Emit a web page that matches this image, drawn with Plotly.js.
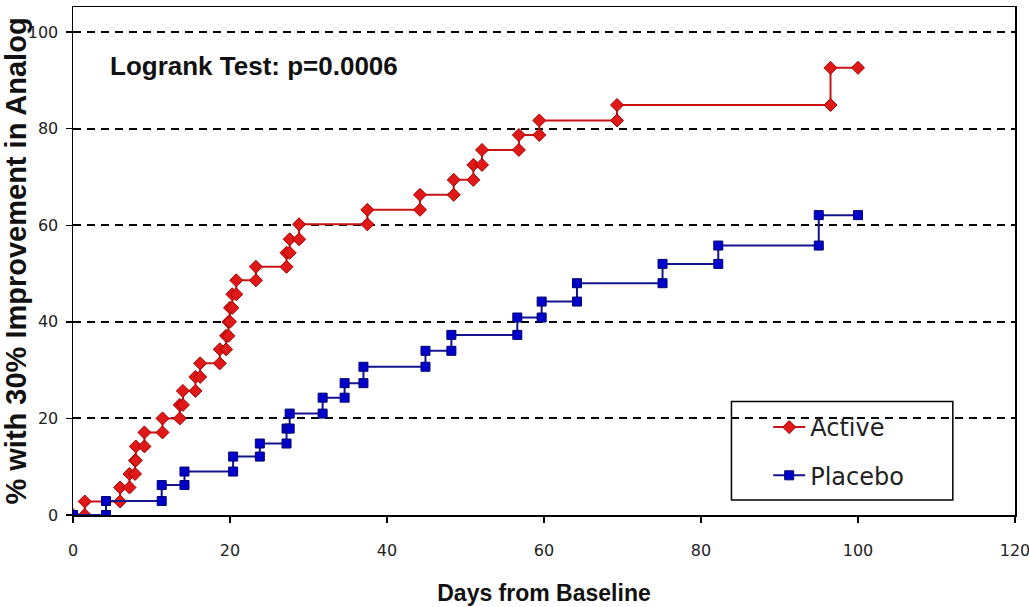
<!DOCTYPE html>
<html>
<head>
<meta charset="utf-8">
<script src="https://cdn.plot.ly/plotly-3.0.1.min.js"></script>
<style>
  html, body { margin: 0; padding: 0; background: #ffffff; }
  #chart { width: 1029px; height: 607px; }
</style>
</head>
<body>
<div id="chart"></div>
<script>
// ---- Data (Kaplan-Meier style step curves) ----
const activeName = "Active";
const placeboName = "Placebo";

const activeDays = [0, 1.5, 1.5, 6.0, 6.0, 7.2, 7.2, 7.9, 7.9, 8.0, 8.0, 9.1, 9.1, 11.4, 11.4,
  13.6, 13.6, 14.0, 14.0, 15.6, 15.6, 16.2, 16.2, 18.7, 18.7, 19.5, 19.5, 19.8, 19.8,
  20.0, 20.0, 20.3, 20.3, 20.8, 20.8, 23.3, 23.3, 27.2, 27.2, 27.6, 27.6, 28.8, 28.8,
  37.5, 37.5, 44.2, 44.2, 48.5, 48.5, 51.0, 51.0, 52.1, 52.1, 56.8, 56.8, 59.4, 59.4,
  69.3, 69.3, 96.5, 96.5, 100];
const activePct = [0, 0, 2.8, 2.8, 5.7, 5.7, 8.5, 8.5, 11.3, 11.3, 14.2, 14.2, 17.1, 17.1, 20.0,
  20.0, 22.8, 22.8, 25.7, 25.7, 28.6, 28.6, 31.4, 31.4, 34.3, 34.3, 37.1, 37.1, 40.0,
  40.0, 42.9, 42.9, 45.7, 45.7, 48.6, 48.6, 51.4, 51.4, 54.3, 54.3, 57.1, 57.1, 60.2,
  60.2, 63.2, 63.2, 66.3, 66.3, 69.4, 69.4, 72.5, 72.5, 75.6, 75.6, 78.7, 78.7, 81.7,
  81.7, 84.9, 84.9, 92.6, 92.6];

const placeboDays = [0, 4.2, 4.2, 11.3, 11.3, 14.2, 14.2, 20.4, 20.4, 23.8, 23.8, 27.2, 27.2,
  27.6, 27.6, 31.8, 31.8, 34.6, 34.6, 37.0, 37.0, 44.9, 44.9, 48.2, 48.2, 56.6, 56.6,
  59.7, 59.7, 64.2, 64.2, 75.1, 75.1, 82.2, 82.2, 95.0, 95.0, 100];
const placeboPct = [0, 0, 2.9, 2.9, 6.2, 6.2, 9.0, 9.0, 12.1, 12.1, 14.8, 14.8, 17.9,
  17.9, 21.0, 21.0, 24.3, 24.3, 27.3, 27.3, 30.7, 30.7, 34.0, 34.0, 37.3, 37.3, 40.9,
  40.9, 44.2, 44.2, 48.0, 48.0, 52.0, 52.0, 55.8, 55.8, 62.1, 62.1];

const xTickVals = [0, 20, 40, 60, 80, 100, 120];
const yTickVals = [0, 20, 40, 60, 80, 100];

const xTitle = "Days from Baseline";
const yTitle = "% with 30% Improvement in Analog";
const noteText = "Logrank Test: p=0.0006";

// ---- Chart ----
const tickFont = { family: "DejaVu Sans, Liberation Sans, Arial, sans-serif", size: 16, color: "#222222" };
const boldFont = "Liberation Sans, Arial, sans-serif";

const traces = [
  {
    x: activeDays, y: activePct, name: activeName, type: "scatter", mode: "lines+markers",
    legendgroup: "a",
    line: { color: "#c81414", width: 2 },
    marker: { symbol: "diamond", size: 10, color: "#e01818", line: { color: "#a00000", width: 1 } }
  },
  {
    x: placeboDays, y: placeboPct, name: placeboName, type: "scatter", mode: "lines+markers",
    legendgroup: "b",
    line: { color: "#14148c", width: 2 },
    marker: { symbol: "square", size: 9, color: "#0000cc", line: { color: "#00006e", width: 1 } }
  }
];

const layout = {
  width: 1029, height: 607,
  margin: { l: 73, r: 14, t: 7, b: 92 },
  paper_bgcolor: "#ffffff",
  plot_bgcolor: "#ffffff",
  showlegend: true,
  xaxis: {
    range: [0, 120],
    tickvals: xTickVals,
    ticks: "outside", ticklen: 6, tickwidth: 1.5, tickcolor: "#000000",
    tickfont: tickFont,
    ticklabelstandoff: 14,
    ticklabeloverflow: "allow",
    showgrid: false, zeroline: false,
    showline: true, linecolor: "#000000", linewidth: 1.5, mirror: true,
    title: { text: xTitle, font: { family: boldFont, size: 23, color: "#111111", weight: "bold" }, standoff: 26 },
    fixedrange: true
  },
  yaxis: {
    range: [0, 105.2],
    tickvals: yTickVals,
    ticks: "outside", ticklen: 6, tickwidth: 1.5, tickcolor: "#000000",
    tickfont: tickFont,
    ticklabelstandoff: 4,
    showgrid: true, gridcolor: "#000000", gridwidth: 2, griddash: "8px,6px",
    zeroline: false,
    showline: true, linecolor: "#000000", linewidth: 1.5, mirror: true,
    title: { text: yTitle, font: { family: boldFont, size: 29, color: "#111111", weight: "bold" }, standoff: 0 },
    fixedrange: true
  },
  legend: {
    x: 0.738, y: 0.2165, xanchor: "left", yanchor: "top",
    bgcolor: "rgba(0,0,0,0)", borderwidth: 0,
    font: { family: "DejaVu Sans, Liberation Sans, Arial, sans-serif", size: 24, color: "#222222" },
    traceorder: "grouped", tracegroupgap: 14, itemwidth: 32
  },
  shapes: [
    { type: "rect", xref: "paper", yref: "paper", x0: 0.699, x1: 0.934, y0: 0.0295, y1: 0.2234,
      line: { color: "#000000", width: 1.5 }, fillcolor: "rgba(0,0,0,0)", layer: "above" }
  ],
  annotations: [
    { text: noteText, xref: "paper", yref: "paper", x: 0.0371, y: 0.884,
      xanchor: "left", yanchor: "middle", showarrow: false,
      font: { family: boldFont, size: 26, color: "#111111", weight: "bold" } }
  ]
};

Plotly.newPlot("chart", traces, layout, { displayModeBar: false, staticPlot: true });
</script>
</body>
</html>
